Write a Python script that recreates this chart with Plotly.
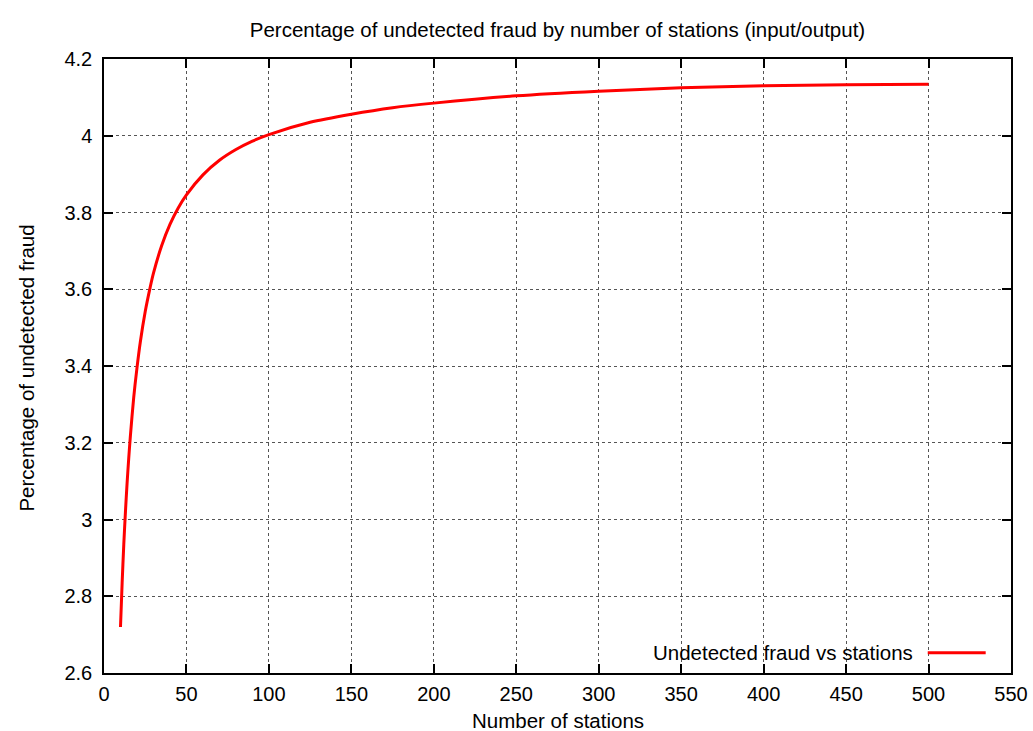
import plotly.graph_objects as go

stations = [10, 11, 12, 13, 14, 15, 16, 18, 20, 22, 25, 28, 30, 35, 40, 45, 50,
            60, 70, 80, 90, 100, 125, 150, 175, 200, 250, 300, 350, 400, 450, 500]
undetected = [2.72, 2.835, 2.935, 3.02, 3.095, 3.16, 3.218, 3.317, 3.395, 3.462, 3.542,
              3.605, 3.642, 3.714, 3.769, 3.812, 3.846, 3.898, 3.936, 3.964, 3.986,
              4.003, 4.035, 4.056, 4.073, 4.085, 4.104, 4.116, 4.125, 4.130, 4.133, 4.134]

x_ticks = [0, 50, 100, 150, 200, 250, 300, 350, 400, 450, 500, 550]
y_ticks = [2.6, 2.8, 3.0, 3.2, 3.4, 3.6, 3.8, 4.0, 4.2]
y_tick_text = ["2.6", "2.8", "3", "3.2", "3.4", "3.6", "3.8", "4", "4.2"]

series_name = "Undetected fraud vs stations"
title_text = "Percentage of undetected fraud by number of stations (input/output)"
x_title = "Number of stations"
y_title = "Percentage of undetected fraud"
FONT = "Liberation Sans, Arial, sans-serif"
font = dict(family=FONT, size=20.5, color="black")
tick_font = dict(family=FONT, size=20, color="black")

fig = go.Figure()
fig.add_trace(go.Scatter(x=stations, y=undetected, mode="lines", name=series_name,
                         line=dict(color="#ff0000", width=3, shape="spline", smoothing=0.8),
                         showlegend=False))

axis_common = dict(showline=True, linecolor="black", linewidth=1.5, mirror="ticks",
                   ticks="inside", ticklen=9, tickwidth=1.5, tickcolor="black",
                   showgrid=True, gridcolor="#555555", gridwidth=1, griddash="dot",
                   zeroline=False, tickfont=tick_font, automargin=False)

fig.update_xaxes(range=[0, 550], tickvals=x_ticks, ticklabelstandoff=2, **axis_common)
fig.update_yaxes(range=[2.6, 4.2], tickvals=y_ticks, ticktext=y_tick_text,
                 ticklabelstandoff=6, **axis_common)

# axis titles placed like gnuplot
fig.add_annotation(xref="paper", yref="paper", x=0.5, y=-0.0775, text=x_title,
                   showarrow=False, xanchor="center", yanchor="middle", font=font)
fig.add_annotation(xref="paper", yref="paper", x=-0.0855, y=0.4965, text=y_title,
                   showarrow=False, xanchor="center", yanchor="middle", textangle=-90,
                   font=font)

# gnuplot-style key: text then line sample, bottom right
fig.add_annotation(xref="paper", yref="paper", x=0.8945, y=0.0326, text=series_name,
                   showarrow=False, xanchor="right", yanchor="middle", font=font)
fig.add_shape(type="line", xref="paper", yref="paper", x0=0.9082, x1=0.9721,
              y0=0.0331, y1=0.0331, line=dict(color="#ff0000", width=3))

fig.update_layout(
    width=1033, height=731,
    margin=dict(l=104, r=22, t=59, b=58, autoexpand=False),
    paper_bgcolor="white", plot_bgcolor="white",
    title=dict(text=title_text, xref="paper", x=0.5, xanchor="center",
               yref="container", y=0.959, yanchor="middle", font=font),
    showlegend=False,
)

fig.write_html("out.html")
